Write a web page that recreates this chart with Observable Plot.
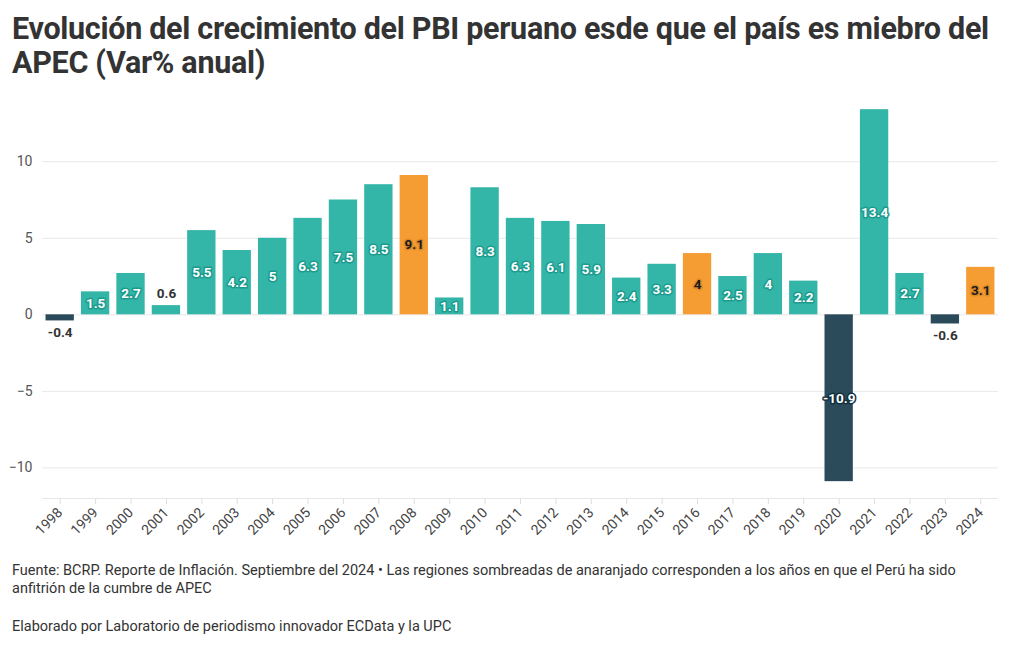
<!DOCTYPE html>
<html>
<head>
<meta charset="utf-8">
<script src="https://cdn.jsdelivr.net/npm/d3@7"></script>
<script src="https://cdn.jsdelivr.net/npm/@observablehq/plot@0.6"></script>
<style>
  body { margin: 0; background: #fff; font-family: Roboto, "Open Sans", sans-serif; color: #333; }
  #title { font-size: 30.5px; font-weight: 700; line-height: 34px; padding: 12px 2px 0 12px; letter-spacing: -0.3px; color: #333; height: 78px; box-sizing: border-box; }
  #chart { margin-top: 12px; }
  #caption { font-size: 14.5px; line-height: 18px; padding: 0 12px; color: #333; margin-top: 14px; }
</style>
</head>
<body>
<div id="title">Evolución del crecimiento del PBI peruano esde que el país es miebro del APEC (Var% anual)</div>
<div id="chart"></div>
<div id="caption">
  <div>Fuente: BCRP. Reporte de Inflación. Septiembre del 2024 • Las regiones sombreadas de anaranjado corresponden a los años en que el Perú ha sido anfitrión de la cumbre de APEC</div>
  <div style="margin-top:20px">Elaborado por Laboratorio de periodismo innovador ECData y la UPC</div>
</div>
<script>
const years = ["1998","1999","2000","2001","2002","2003","2004","2005","2006","2007","2008","2009","2010","2011","2012","2013","2014","2015","2016","2017","2018","2019","2020","2021","2022","2023","2024"];
const growth = [-0.4,1.5,2.7,0.6,5.5,4.2,5,6.3,7.5,8.5,9.1,1.1,8.3,6.3,6.1,5.9,2.4,3.3,4,2.5,4,2.2,-10.9,13.4,2.7,-0.6,3.1];
const hostYears = ["2008","2016","2024"];
const yTicks = [-10,-5,0,5,10];

const colors = {crec: "#33b5a8", host: "#f59c33", neg: "#2b4b5b"};
const halos = {crec: "#1c9a8d", host: "#dd8a28", neg: "#10303d"};
const textFill = {crec: "#ffffff", host: "#1a1a1a", neg: "#ffffff"};

const data = years.map((y, i) => {
  const v = growth[i];
  const cat = hostYears.includes(y) ? "host" : (v < 0 ? "neg" : "crec");
  return {year: y, value: v, cat};
});
const inside = data.filter(d => Math.abs(d.value) >= 1);
const outsidePos = data.filter(d => Math.abs(d.value) < 1 && d.value >= 0);
const outsideNeg = data.filter(d => Math.abs(d.value) < 1 && d.value < 0);

const chart = Plot.plot({
  width: 1020,
  height: 458,
  marginTop: 10,
  marginLeft: 42,
  marginRight: 22,
  marginBottom: 50,
  style: {fontFamily: "Roboto, 'Open Sans', sans-serif", fontSize: "13px", color: "#555"},
  x: {domain: years, paddingInner: 0.2, paddingOuter: 0.1, round: false, label: null},
  y: {domain: [-12, 14], label: null},
  marks: [
    Plot.ruleY(yTicks, {stroke: "#e8e8e8"}),
    Plot.ruleX([0], {frameAnchor: "left", stroke: "#e6e6e6"}),
    Plot.barY(data, {x: "year", y: "value", fill: d => colors[d.cat]}),
    Plot.axisX({tickRotate: -45, tickSize: 6, stroke: "#ddd", color: "#444", fontSize: 14, textAnchor: "end", label: null}),
    Plot.axisY({ticks: yTicks, tickSize: 0, tickPadding: 10, color: "#555", fontSize: 14, label: null}),
    Plot.ruleY([-12], {stroke: "#e6e6e6"}),
    Plot.text(inside, {x: "year", y: d => d.value / 2, text: d => String(d.value),
      fill: d => textFill[d.cat], stroke: d => halos[d.cat], strokeWidth: 3,
      fontSize: 13.5, fontWeight: 700}),
    Plot.text(outsidePos, {x: "year", y: "value", text: d => String(d.value),
      fill: "#333", fontSize: 13.5, fontWeight: 700, dy: -12}),
    Plot.text(outsideNeg, {x: "year", y: "value", text: d => String(d.value),
      fill: "#333", fontSize: 13.5, fontWeight: 700, dy: 12})
  ]
});
document.getElementById("chart").appendChild(chart);
</script>
</body>
</html>
